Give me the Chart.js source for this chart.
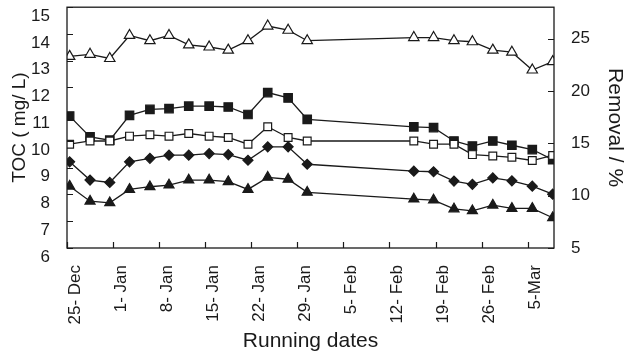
<!DOCTYPE html>
<html>
<head>
<meta charset="utf-8">
<script src="https://cdn.jsdelivr.net/npm/chart.js@4.4.1/dist/chart.umd.min.js"></script>
<style>
  body { margin: 0; background: #fff; }
  canvas { display: block; }
</style>
</head>
<body>
<canvas id="grafico" width="628" height="359"></canvas>
<script>
// dias desde 25-Dec
const dias = [0.4, 3.5, 6.5, 9.5, 12.6, 15.5, 18.5, 21.6, 24.5, 27.5, 30.5, 33.6, 36.5,
    52.7, 55.7, 58.8, 61.6, 64.7, 67.6, 70.7, 73.8];

const rotulosDatas = ['25- Dec', '1- Jan', '8- Jan', '15- Jan', '22- Jan', '29- Jan',
    '5- Feb', '12- Feb', '19- Feb', '26- Feb', '5-Mar'];

// remocao (%) - eixo direito
const remocao = [23.3, 23.5, 23.1, 25.3, 24.8, 25.3, 24.4, 24.2, 23.9, 24.8, 26.2, 25.8, 24.8,
    25.1, 25.1, 24.8, 24.7, 23.9, 23.7, 22.0, 22.8];

// TOC (mg/L) - eixo esquerdo
const tocQuadradoCheio = [10.93, 10.15, 10.03, 10.96, 11.18, 11.21, 11.30, 11.30, 11.27, 10.99, 11.81, 11.61, 10.81,
    10.53, 10.50, 10.00, 9.81, 10.00, 9.84, 9.68, 9.30];
const tocQuadradoVazio = [9.88, 10.00, 10.00, 10.18, 10.23, 10.18, 10.28, 10.18, 10.13, 9.88, 10.53, 10.13, 10.00,
    10.00, 9.88, 9.88, 9.49, 9.44, 9.39, 9.27, 9.46];
const tocLosango = [9.22, 8.54, 8.45, 9.22, 9.35, 9.47, 9.47, 9.53, 9.49, 9.28, 9.78, 9.78, 9.13,
    8.87, 8.85, 8.50, 8.38, 8.62, 8.51, 8.31, 8.01];
const tocTriangulo = [8.31, 7.75, 7.69, 8.19, 8.29, 8.35, 8.54, 8.54, 8.48, 8.19, 8.64, 8.57, 8.08,
    7.83, 7.79, 7.46, 7.39, 7.60, 7.48, 7.48, 7.13];

const COR = '#1a1a1a';
const FONTE = "Arial, 'Liberation Sans', sans-serif";
const TAM_TICK = 6;

function pares(valores) {
    return valores.map((v, i) => ({ x: dias[i], y: v }));
}

function serie(valores, estilo, cheio, raio, eixo) {
    return {
        data: pares(valores),
        yAxisID: eixo,
        borderColor: COR,
        borderWidth: 1.3,
        pointStyle: estilo,
        pointRadius: raio,
        pointBackgroundColor: cheio ? COR : '#fff',
        pointBorderColor: COR,
        pointBorderWidth: 1.2,
        tension: 0,
        fill: false
    };
}

function soMultiplos(passo) {
    return scale => {
        scale.ticks = scale.ticks.filter(t => Math.abs(t.value / passo - Math.round(t.value / passo)) < 1e-6);
    };
}

// moldura do grafico + marcas dos ticks para dentro
const moldura = {
    id: 'moldura',
    afterDraw(chart) {
        const { ctx, chartArea: a, scales } = chart;
        ctx.save();
        ctx.strokeStyle = COR;
        ctx.lineWidth = 1.3;
        ctx.strokeRect(a.left, a.top, a.right - a.left, a.bottom - a.top);

        ctx.lineWidth = 1.2;
        ctx.beginPath();
        scales.x.ticks.forEach(t => {
            const px = Math.round(scales.x.getPixelForValue(t.value)) + 0.5;
            ctx.moveTo(px, a.bottom);
            ctx.lineTo(px, a.bottom - TAM_TICK);
        });
        scales.y.ticks.forEach(t => {
            const py = Math.round(scales.y.getPixelForValue(t.value)) + 0.5;
            ctx.moveTo(a.left, py);
            ctx.lineTo(a.left + TAM_TICK, py);
        });
        scales.yDir.ticks.forEach(t => {
            const py = Math.round(scales.yDir.getPixelForValue(t.value)) + 0.5;
            ctx.moveTo(a.right, py);
            ctx.lineTo(a.right - TAM_TICK, py);
        });
        ctx.stroke();
        ctx.restore();
    }
};

const eixoBase = {
    border: { display: false },
    grid: { display: false },
};

new Chart(document.getElementById('grafico').getContext('2d'), {
    type: 'line',
    data: {
        datasets: [
            serie(remocao, 'triangle', false, 6, 'yDir'),
            serie(tocQuadradoVazio, 'rect', false, 5.5, 'y'),
            serie(tocQuadradoCheio, 'rect', true, 6, 'y'),
            serie(tocLosango, 'rectRot', true, 5, 'y'),
            serie(tocTriangulo, 'triangle', true, 5.8, 'y')
        ]
    },
    options: {
        responsive: false,
        devicePixelRatio: 1,
        animation: false,
        layout: { padding: { top: 7, left: 0, right: 0, bottom: 0 } },
        plugins: { legend: { display: false }, tooltip: { enabled: false } },
        scales: {
            x: {
                ...eixoBase,
                type: 'linear',
                position: 'bottom',
                min: 0,
                max: 74,
                afterBuildTicks: soMultiplos(7),
                afterFit(s) { s.height = 111; s.paddingLeft = 0; s.paddingRight = 0; },
                ticks: {
                    stepSize: 7,
                    autoSkip: false,
                    minRotation: 90,
                    maxRotation: 90,
                    padding: 9,
                    labelOffset: 8,
                    color: COR,
                    font: { family: FONTE, size: 17 },
                    callback: v => rotulosDatas[Math.round(v / 7)] ?? ''
                },
                title: {
                    display: true,
                    text: 'Running dates',
                    color: COR,
                    font: { family: FONTE, size: 21 },
                    padding: { top: 0, bottom: 5 }
                }
            },
            y: {
                ...eixoBase,
                position: 'left',
                min: 6,
                max: 15,
                afterFit(s) { s.width = 67; s.paddingTop = 0; s.paddingBottom = 0; },
                ticks: {
                    stepSize: 1,
                    padding: 9,
                    labelOffset: 9,
                    color: COR,
                    font: { family: FONTE, size: 17 }
                },
                title: {
                    display: true,
                    text: 'TOC ( mg/ L)',
                    color: COR,
                    font: { family: FONTE, size: 19 },
                    padding: { top: 8, bottom: 0 }
                }
            },
            yDir: {
                ...eixoBase,
                position: 'right',
                min: 5,
                max: 28,
                afterBuildTicks: soMultiplos(5),
                afterFit(s) { s.width = 74; s.paddingTop = 0; s.paddingBottom = 0; },
                ticks: {
                    stepSize: 5,
                    padding: 9,
                    color: COR,
                    font: { family: FONTE, size: 17 }
                },
                title: {
                    display: true,
                    text: 'Removal / %',
                    color: COR,
                    font: { family: FONTE, size: 21 },
                    padding: { top: 1, bottom: 0 }
                }
            }
        }
    },
    plugins: [moldura]
});
</script>
</body>
</html>
